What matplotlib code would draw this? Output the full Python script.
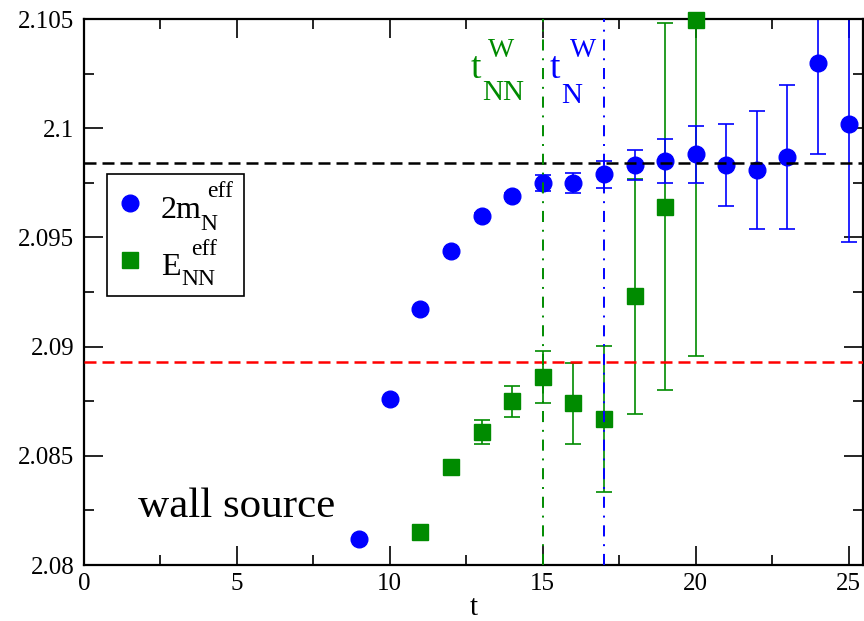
import matplotlib
matplotlib.use("Agg")
import matplotlib.pyplot as plt
from matplotlib.ticker import MultipleLocator

plt.rcParams['font.family'] = ['Liberation Serif', 'DejaVu Serif']

# 2 m_N^eff (blue circles)
t_n = [9, 10, 11, 12, 13, 14, 15, 16, 17, 18, 19, 20, 21, 22, 23, 24, 25]
m_n = [2.0812, 2.0876, 2.0917, 2.0944, 2.0960, 2.0969, 2.0975, 2.0975, 2.0979,
       2.0983, 2.0985, 2.0988, 2.0983, 2.0981, 2.0987, 2.1030, 2.1002]
m_err = [0.00005, 0.00005, 0.00005, 0.00008, 0.0001, 0.00012, 0.00036, 0.00045, 0.00062,
         0.00069, 0.00102, 0.0013, 0.00187, 0.0027, 0.0033, 0.0042, 0.0054]

# E_NN^eff (green squares)
t_nn = [11, 12, 13, 14, 15, 16, 17, 18, 19, 20]
e_nn = [2.0815, 2.0845, 2.0861, 2.0875, 2.0886, 2.0874, 2.0867, 2.0923, 2.0964, 2.10495]
e_err = [0.00005, 0.0001, 0.00056, 0.00071, 0.00118, 0.00184, 0.00334, 0.00537, 0.0084, 0.0154]

fit_2mn = 2.0984
fit_enn = 2.0893
t_nn_w = 15
t_n_w = 17

xticks = [0, 5, 10, 15, 20, 25]
yticks = [2.08, 2.085, 2.09, 2.095, 2.1, 2.105]
yticklabels = ['2.08', '2.085', '2.09', '2.095', '2.1', '2.105']

blue = '#0000ff'
green = '#008b00'

W, H = 864, 621
fig = plt.figure(figsize=(W / 100, H / 100), dpi=100)
ax = fig.add_axes([84 / W, 56 / H, 779 / W, 546 / H])


def P(x, y):
    return (x / W, 1 - y / H)


def ftext(x, y, s, size, color='black'):
    fig.text(*P(x, y), s, fontsize=size, color=color, ha='left', va='baseline')


ax.errorbar(t_nn, e_nn, yerr=e_err, fmt='none', ecolor=green, elinewidth=1.2,
            capsize=5.6, capthick=1.2, zorder=2)
sq, = ax.plot(t_nn, e_nn, 's', color=green, markersize=11, clip_on=False, zorder=3)
ax.errorbar(t_n, m_n, yerr=m_err, fmt='none', ecolor=blue, elinewidth=1.2,
            capsize=5.6, capthick=1.2, zorder=2)
ci, = ax.plot(t_n, m_n, 'o', color=blue, markersize=12, clip_on=False, zorder=3)

ax.axhline(fit_2mn, color='black', lw=1.8, ls=(0, (4.8, 2.4)), zorder=5)
ax.axhline(fit_enn, color='#ff0000', lw=1.8, ls=(0, (4.8, 2.4)), zorder=5)
ax.axvline(t_nn_w, color=green, lw=1.4, ls=(0, (5.7, 4.0, 1.0, 4.0)), zorder=5)
ax.axvline(t_n_w, color=blue, lw=1.4, ls=(0, (5.7, 4.0, 1.0, 4.0)), zorder=5)

# annotations t_NN^W and t_N^W
ftext(471.0, 78.3, 't', 27, green)
ftext(482.0, 100.0, 'NN', 21, green)
ftext(488.0, 56.7, 'W', 20, green)
ftext(550.0, 78.3, 't', 27, blue)
ftext(561.0, 103.3, 'N', 21, blue)
ftext(570.0, 56.7, 'W', 20, blue)

ftext(138.0, 516.7, 'wall source', 31)

ax.set_xlim(0, 25.47)
ax.set_ylim(2.08, 2.105)
ax.set_xticks(xticks)
ax.xaxis.set_minor_locator(MultipleLocator(2.5))
ax.set_yticks(yticks)
ax.set_yticklabels(yticklabels)
ax.yaxis.set_minor_locator(MultipleLocator(0.0025))
ax.tick_params(which='both', direction='in', top=True, right=True, labelsize=18, width=1.2)
ax.tick_params(which='major', length=14)
ax.tick_params(which='minor', length=7)
ax.tick_params(axis='y', pad=7)
ax.tick_params(axis='x', pad=6)
for s in ax.spines.values():
    s.set_linewidth(1.6)
ax.set_xlabel('t', fontsize=21, labelpad=0)

# legend box with markers; label text drawn separately to mimic grace sub/superscripts
leg = ax.legend([ci, sq], [' ', ' '], loc='upper left', bbox_to_anchor=(0.0295, 0.716),
                borderaxespad=0, fancybox=False, framealpha=1, edgecolor='black',
                fontsize=23, handlelength=0.36, handletextpad=2.58, borderpad=0.55,
                labelspacing=0.87)
leg.get_frame().set_linewidth(1.2)

ftext(161.0, 218.3, '2m', 23)
ftext(200.0, 230.0, 'N', 17)
ftext(207.5, 196.7, 'eff', 17)
ftext(161.0, 275.0, 'E', 23)
ftext(181.5, 285.0, 'NN', 17)
ftext(191.5, 255.0, 'eff', 17)

fig.savefig('out.png', dpi=100)
